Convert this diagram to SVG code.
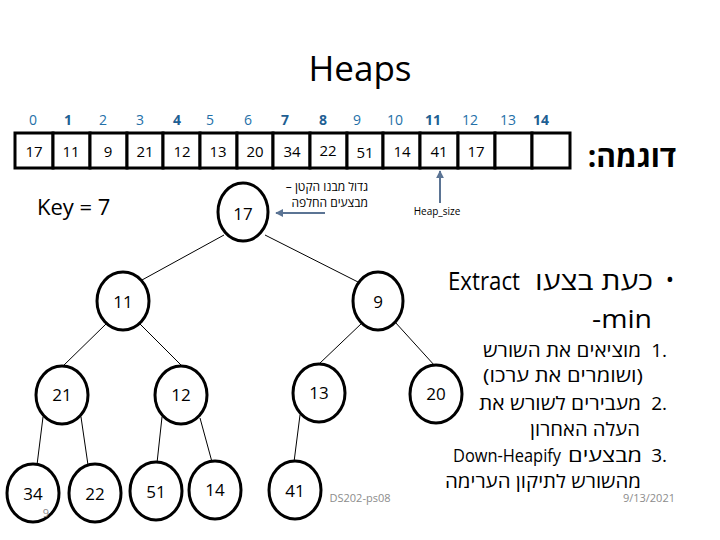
<svg xmlns="http://www.w3.org/2000/svg" width="720" height="540" viewBox="0 0 720 540">
<style>
  text { font-family: "Open Sans", "DejaVu Sans", sans-serif; fill: #000; }
  .idx { font-size: 14px; fill: #2470A8; text-anchor: middle; }
  .idxb { font-size: 14px; fill: #1F5F93; font-weight: bold; text-anchor: middle; }
  .cell { fill: #fff; stroke: #000; stroke-width: 3; }
  .val { font-size: 15px; text-anchor: middle; }
  .node ellipse { fill: #fff; stroke: #000; stroke-width: 3; }
  .node text { font-size: 17px; text-anchor: middle; }
  .edge { stroke: #000; stroke-width: 1; fill: none; }
  .he { direction: rtl; unicode-bidi: embed; }
  .note { font-size: 12px; }
  .list { font-size: 18px; }
  .num { font-size: 19px; text-anchor: end; }
  .mid { text-anchor: middle; }
  .foot { font-size: 11px; fill: #8c8c8c; }
  .arrow { stroke: #5B7494; stroke-width: 2; fill: none; }
</style>
<defs>
  <marker id="ah" viewBox="0 0 10 10" refX="9" refY="5" markerWidth="4" markerHeight="4" orient="auto">
    <path d="M0,0 L10,5 L0,10 z" fill="#5B7494"/>
  </marker>
</defs>
<rect width="720" height="540" fill="#fff"/>
<text x="360" y="81" font-size="35" text-anchor="middle">Heaps</text>

<g id="indices">
  <text class="idx" x="33" y="125">0</text>
  <text class="idxb" x="68" y="125">1</text>
  <text class="idx" x="103" y="125">2</text>
  <text class="idx" x="140" y="125">3</text>
  <text class="idxb" x="177" y="125">4</text>
  <text class="idx" x="210" y="125">5</text>
  <text class="idx" x="248" y="125">6</text>
  <text class="idxb" x="285" y="125">7</text>
  <text class="idxb" x="323" y="125">8</text>
  <text class="idx" x="357" y="125">9</text>
  <text class="idx" x="395" y="125">10</text>
  <text class="idxb" x="433" y="125">11</text>
  <text class="idx" x="470" y="125">12</text>
  <text class="idx" x="508" y="125">13</text>
  <text class="idxb" x="541" y="125">14</text>
</g>

<g id="array">
  <rect class="cell" x="15" y="133" width="38" height="35"/>
  <rect class="cell" x="53" y="133" width="37" height="35"/>
  <rect class="cell" x="90" y="133" width="37" height="35"/>
  <rect class="cell" x="127" y="133" width="36" height="35"/>
  <rect class="cell" x="163" y="133" width="37" height="35"/>
  <rect class="cell" x="200" y="133" width="37" height="35"/>
  <rect class="cell" x="237" y="133" width="36" height="35"/>
  <rect class="cell" x="273" y="133" width="37" height="35"/>
  <rect class="cell" x="310" y="133" width="37" height="35"/>
  <rect class="cell" x="347" y="133" width="36" height="35"/>
  <rect class="cell" x="383" y="133" width="37" height="35"/>
  <rect class="cell" x="420" y="133" width="38" height="35"/>
  <rect class="cell" x="458" y="133" width="37" height="35"/>
  <rect class="cell" x="495" y="133" width="37" height="35"/>
  <rect class="cell" x="532" y="133" width="38" height="35"/>
  <text class="val" x="34" y="157">17</text>
  <text class="val" x="71" y="157">11</text>
  <text class="val" x="108" y="157">9</text>
  <text class="val" x="145" y="157">21</text>
  <text class="val" x="182" y="157">12</text>
  <text class="val" x="218" y="157">13</text>
  <text class="val" x="255" y="157">20</text>
  <text class="val" x="292" y="157">34</text>
  <text class="val" x="328" y="156">22</text>
  <text class="val" x="365" y="158">51</text>
  <text class="val" x="402" y="157">14</text>
  <text class="val" x="439" y="157">41</text>
  <text class="val" x="476" y="157">17</text>
</g>

<text class="he" x="632" y="167" font-size="30" font-weight="bold" text-anchor="middle">דוגמה:</text>

<text x="37" y="215" font-size="22">Key = 7</text>

<g id="connectors">
  <line class="edge" x1="224" y1="235" x2="142" y2="280"/>
  <line class="edge" x1="265" y1="235" x2="358" y2="282"/>
  <line class="edge" x1="106" y1="324" x2="63" y2="366"/>
  <line class="edge" x1="140" y1="324" x2="182" y2="366"/>
  <line class="edge" x1="362" y1="323" x2="319" y2="364"/>
  <line class="edge" x1="395" y1="322" x2="435" y2="366"/>
  <line class="edge" x1="43" y1="417" x2="37" y2="465"/>
  <line class="edge" x1="81" y1="417" x2="88" y2="465"/>
  <line class="edge" x1="162" y1="417" x2="157" y2="463"/>
  <line class="edge" x1="200" y1="418" x2="212" y2="462"/>
  <line class="edge" x1="300" y1="415" x2="294" y2="462"/>
  <line class="arrow" x1="325" y1="213" x2="276" y2="213" marker-end="url(#ah)"/>
  <line class="arrow" x1="440" y1="203" x2="440" y2="171" marker-end="url(#ah)"/>
</g>

<g id="n17" class="node"><ellipse cx="243" cy="212" rx="25" ry="29"/><text x="243" y="220">17</text></g>
<g id="n11" class="node"><ellipse cx="123" cy="301" rx="26" ry="29"/><text x="123" y="308">11</text></g>
<g id="n9" class="node"><ellipse cx="378" cy="301" rx="25" ry="29"/><text x="378" y="308">9</text></g>
<g id="n21" class="node"><ellipse cx="62" cy="395" rx="26" ry="29"/><text x="62" y="401">21</text></g>
<g id="n12" class="node"><ellipse cx="181" cy="395" rx="26" ry="29"/><text x="181" y="401">12</text></g>
<g id="n13" class="node"><ellipse cx="319" cy="393" rx="26" ry="29"/><text x="319" y="399">13</text></g>
<g id="n20" class="node"><ellipse cx="436" cy="394" rx="26" ry="29"/><text x="436" y="400">20</text></g>
<g id="n34" class="node"><ellipse cx="33" cy="493" rx="26" ry="29"/><text x="33" y="500">34</text></g>
<g id="n22" class="node"><ellipse cx="95" cy="493" rx="26" ry="29"/><text x="95" y="500">22</text></g>
<g id="n51" class="node"><ellipse cx="156" cy="491" rx="26" ry="29"/><text x="156" y="498">51</text></g>
<g id="n14" class="node"><ellipse cx="215" cy="490" rx="26" ry="29"/><text x="215" y="496">14</text></g>
<g id="n41" class="node"><ellipse cx="295" cy="490" rx="26" ry="29"/><text x="295" y="497">41</text></g>

<text class="he note" x="368" y="191">גדול מבנו הקטן –</text>
<text class="he note" x="368" y="207">מבצעים החלפה</text>
<text x="437" y="215" font-size="10" text-anchor="middle">Heap_size</text>

<g id="bullet">
  <text x="670" y="287" font-size="22" text-anchor="middle">•</text>
  <text class="he mid" x="594" y="290" font-size="25" textLength="118" lengthAdjust="spacingAndGlyphs">כעת בצעו</text>
  <text class="mid" x="484" y="290" font-size="25" textLength="72" lengthAdjust="spacingAndGlyphs">Extract</text>
  <text class="mid" x="622" y="328" font-size="26" textLength="60" lengthAdjust="spacingAndGlyphs">-min</text>
</g>
<g id="list">
  <text class="num" x="667" y="357">1.</text>
  <text class="he list mid" x="562" y="357" textLength="158" lengthAdjust="spacingAndGlyphs">מוציאים את השורש</text>
  <text class="he list mid" x="563" y="382" textLength="160" lengthAdjust="spacingAndGlyphs">(ושומרים את ערכו)</text>
  <text class="num" x="667" y="410">2.</text>
  <text class="he list mid" x="560" y="410" textLength="162" lengthAdjust="spacingAndGlyphs">מעבירים לשורש את</text>
  <text class="he list mid" x="585" y="436" textLength="110" lengthAdjust="spacingAndGlyphs">העלה האחרון</text>
  <text class="num" x="667" y="462">3.</text>
  <text class="he list mid" x="605" y="462" textLength="74" lengthAdjust="spacingAndGlyphs">מבצעים</text>
  <text class="list mid" x="507" y="462" textLength="108" lengthAdjust="spacingAndGlyphs">Down-Heapify</text>
  <text class="he list mid" x="543" y="488" textLength="196" lengthAdjust="spacingAndGlyphs">מהשורש לתיקון הערימה</text>
</g>

<text class="foot" x="360" y="502" text-anchor="middle">DS202-ps08</text>
<text class="foot" x="675" y="502" text-anchor="end">9/13/2021</text>
<text class="foot" x="46" y="517" text-anchor="middle">9</text>
</svg>
